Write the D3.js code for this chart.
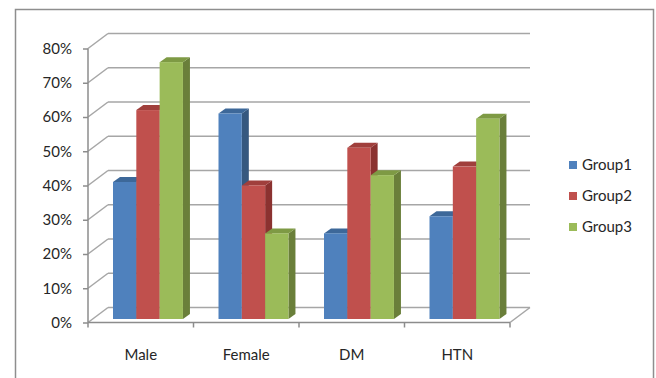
<!DOCTYPE html>
<html lang="en">
    <head>
        <meta charset="utf-8">
        <title>Groups chart</title>
        <style type="text/css">
            body { margin: 0; background: #fff; }
            text { font-family: "Lato", "Liberation Sans", sans-serif; fill: #262626; }
            .grid { stroke: #a6a6a6; stroke-width: 1.5; fill: none; }
            .axis { stroke: #8c8c8c; stroke-width: 1.5; fill: none; }
        </style>
    </head>
    <body>
        <script src="https://cdn.jsdelivr.net/npm/d3@7"></script>
        <script type="text/javascript">

          // chart data
          const categories = ["Male", "Female", "DM", "HTN"];
          const series = ["Group1", "Group2", "Group3"];
          const group1 = [40, 60, 25, 30];
          const group2 = [61, 39, 50, 44.5];
          const group3 = [75, 25, 42, 58.5];
          const yTicks = [0, 10, 20, 30, 40, 50, 60, 70, 80];

          const values = [group1, group2, group3];

          // face colours: front, top, side
          const colors = [
            ["#4f81bd", "#3d6899", "#36587f"],
            ["#c0504d", "#a03f3c", "#8b3230"],
            ["#9bbb59", "#7e9a44", "#6a7f3a"]
          ];

          const width = 656, height = 378;

          // depth of the chart walls and of the bars
          const wallDx = 20, wallDy = -15;
          const barDx = 7, barDy = -5;
          const barLift = 3.5;

          var svg = d3.select("body")
                      .append("svg")
                      .attr("width", width)
                      .attr("height", height);

          // outer frame
          svg.append("rect")
             .attr("x", 15.5)
             .attr("y", 9.5)
             .attr("width", 638)
             .attr("height", 380)
             .attr("fill", "none")
             .attr("stroke", "#8e8e8e")
             .attr("stroke-width", 1.5);

          var yScale = d3.scaleLinear()
                         .domain([0, 80])
                         .range([322.5, 48.5]);

          var xScale = d3.scaleBand()
                         .domain(categories)
                         .range([88, 510]);

          var bw = xScale.bandwidth();
          var sScale = d3.scaleBand()
                         .domain(series)
                         .range([bw * 0.237, bw * 0.9]);

          const x0 = xScale.range()[0], x1 = xScale.range()[1];

          // back wall gridlines and left wall diagonals
          yTicks.forEach(function(t) {
            var y = yScale(t);
            svg.append("line").attr("class", "grid")
               .attr("x1", x0 + wallDx).attr("y1", y + wallDy)
               .attr("x2", x1 + wallDx).attr("y2", y + wallDy);
            svg.append("line").attr("class", "grid")
               .attr("x1", x0).attr("y1", y)
               .attr("x2", x0 + wallDx).attr("y2", y + wallDy);
          });

          // floor right edge
          svg.append("line").attr("class", "grid")
             .attr("x1", x1).attr("y1", yScale(0))
             .attr("x2", x1 + wallDx).attr("y2", yScale(0) + wallDy);

          // y axis
          var yAxis = d3.axisLeft(yScale)
                        .tickValues(yTicks)
                        .tickSize(5)
                        .tickPadding(11)
                        .tickFormat(function(d) { return d + "%"; });

          var gy = svg.append("g")
                      .attr("transform", "translate(" + x0 + ",0)")
                      .call(yAxis);
          gy.select(".domain").attr("class", "axis").attr("d", "M0," + yScale(0) + "V" + yScale(80));
          gy.selectAll(".tick line").attr("stroke", "#8c8c8c").attr("stroke-width", 1.5);
          gy.selectAll(".tick text").style("font-size", "15px").attr("fill", "#262626");

          // x axis
          var xAxis = d3.axisBottom(xScale)
                        .tickSize(0)
                        .tickPadding(27);

          var gx = svg.append("g")
                      .attr("transform", "translate(0," + yScale(0) + ")")
                      .call(xAxis);
          gx.select(".domain").attr("class", "axis").attr("d", "M" + x0 + ",0H" + x1);
          gx.selectAll(".tick text").style("font-size", "15px").attr("fill", "#262626");

          // category separator ticks
          svg.selectAll("line.ctick")
             .data(categories.concat(["end"]))
             .enter()
             .append("line")
             .attr("class", "axis ctick")
             .attr("x1", function(d, i) { return x0 + i * bw; })
             .attr("x2", function(d, i) { return x0 + i * bw; })
             .attr("y1", yScale(0))
             .attr("y2", yScale(0) + 5);

          // 3D bars
          var bars = [];
          categories.forEach(function(c, ci) {
            series.forEach(function(s, si) {
              bars.push({ cat: c, ser: s, si: si, v: values[si][ci] });
            });
          });

          var sw = sScale.bandwidth();
          var bar = svg.selectAll("g.bar")
                       .data(bars)
                       .enter()
                       .append("g")
                       .attr("class", "bar");

          function barLeft(d) { return xScale(d.cat) + sScale(d.ser); }
          function barTop(d) { return yScale(d.v) - barLift; }
          var base = yScale(0) - barLift;

          // side face
          bar.append("path")
             .attr("fill", function(d) { return colors[d.si][2]; })
             .attr("d", function(d) {
               var r = barLeft(d) + sw, t = barTop(d);
               return "M" + r + "," + t + "L" + (r + barDx) + "," + (t + barDy) +
                      "L" + (r + barDx) + "," + (base + barDy) + "L" + r + "," + base + "Z";
             });

          // top face
          bar.append("path")
             .attr("fill", function(d) { return colors[d.si][1]; })
             .attr("d", function(d) {
               var l = barLeft(d), t = barTop(d);
               return "M" + l + "," + t + "L" + (l + sw) + "," + t +
                      "L" + (l + sw + barDx) + "," + (t + barDy) + "L" + (l + barDx) + "," + (t + barDy) + "Z";
             });

          // front face
          bar.append("rect")
             .attr("x", barLeft)
             .attr("y", barTop)
             .attr("width", sw)
             .attr("height", function(d) { return base - barTop(d); })
             .attr("fill", function(d) { return colors[d.si][0]; });

          // legend
          var legend = svg.selectAll("g.legend")
                          .data(series)
                          .enter()
                          .append("g")
                          .attr("class", "legend")
                          .attr("transform", function(d, i) { return "translate(569," + (165 + i * 31) + ")"; });

          legend.append("rect")
                .attr("x", 0)
                .attr("y", -4)
                .attr("width", 8)
                .attr("height", 8)
                .attr("fill", function(d, i) { return colors[i][0]; });

          legend.append("text")
                .attr("x", 13)
                .attr("y", 0)
                .attr("dy", "0.35em")
                .style("font-size", "15px")
                .text(function(d) { return d; });
        </script>
    </body>
</html>
